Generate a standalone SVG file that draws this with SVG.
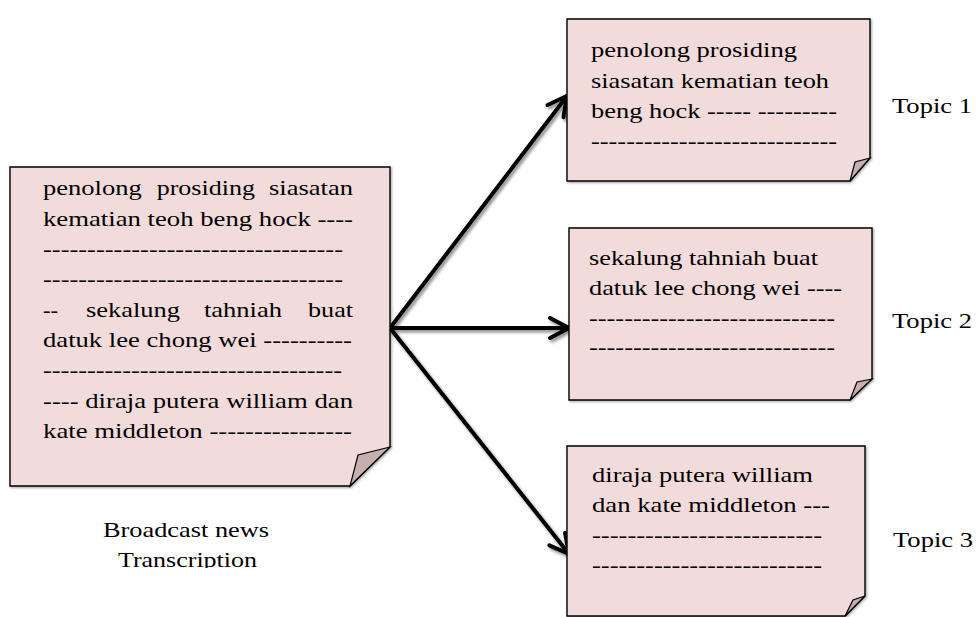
<svg xmlns="http://www.w3.org/2000/svg" width="977" height="617" viewBox="0 0 977 617">
<style>
.box{fill:#f2dcdb;stroke:#000;stroke-width:1.4;stroke-linejoin:miter}
.fold{fill:#c8afae;stroke:#000;stroke-width:1.2;stroke-linejoin:miter}
.t{font-family:"Liberation Serif","Times New Roman","DejaVu Serif",serif;font-size:21.5px;fill:#000}
.arrow{stroke:#000;stroke-width:4;fill:none;stroke-linecap:round;marker-end:url(#head)}
</style>
<defs>
<marker id="head" markerUnits="userSpaceOnUse" markerWidth="30" markerHeight="30" refX="0" refY="0" orient="auto" overflow="visible">
<path d="M-19,-10 L0,0 L-19,10" fill="none" stroke="#000" stroke-width="4" stroke-linecap="round" stroke-linejoin="miter"/>
</marker>
<filter id="ashadow" x="-20%" y="-20%" width="140%" height="140%">
<feDropShadow dx="2" dy="2.5" stdDeviation="1.5" flood-color="#000" flood-opacity="0.45"/>
</filter>
<filter id="bshadow" x="-5%" y="-5%" width="110%" height="110%">
<feDropShadow dx="1.2" dy="1.2" stdDeviation="0.8" flood-color="#000" flood-opacity="0.35"/>
</filter>
<clipPath id="clipT"><rect x="0" y="0" width="400" height="568"/></clipPath>
</defs>

<g id="connectors" filter="url(#ashadow)">
<line class="arrow" x1="390" y1="328" x2="567" y2="96"/>
<line class="arrow" x1="390" y1="328" x2="569" y2="328"/>
<line class="arrow" x1="390" y1="328" x2="569" y2="554"/>
</g>

<g id="main">
<g filter="url(#bshadow)">
<path class="box" d="M10,167 H390 V447 L350,486 H10 Z"/>
</g>
<polygon class="fold" points="390,447 358,455 350,486"/>
<text class="t" x="43" y="195" textLength="98.7" lengthAdjust="spacingAndGlyphs">penolong</text>
<text class="t" x="156.7" y="195" textLength="98.3" lengthAdjust="spacingAndGlyphs">prosiding</text>
<text class="t" x="269" y="195" textLength="84" lengthAdjust="spacingAndGlyphs">siasatan</text>
<text class="t" x="43" y="225.5" textLength="310" lengthAdjust="spacingAndGlyphs">kematian teoh beng hock ----</text>
<text class="t" x="43" y="255.5" textLength="300" lengthAdjust="spacingAndGlyphs">----------------------------------</text>
<text class="t" x="43" y="286" textLength="300" lengthAdjust="spacingAndGlyphs">----------------------------------</text>
<text class="t" x="43" y="316.5" textLength="15" lengthAdjust="spacingAndGlyphs">--</text>
<text class="t" x="86" y="316.5" textLength="94" lengthAdjust="spacingAndGlyphs">sekalung</text>
<text class="t" x="204" y="316.5" textLength="78" lengthAdjust="spacingAndGlyphs">tahniah</text>
<text class="t" x="308" y="316.5" textLength="45" lengthAdjust="spacingAndGlyphs">buat</text>
<text class="t" x="43" y="347" textLength="309" lengthAdjust="spacingAndGlyphs">datuk lee chong wei ----------</text>
<text class="t" x="43" y="377" textLength="299" lengthAdjust="spacingAndGlyphs">----------------------------------</text>
<text class="t" x="43" y="408" textLength="310" lengthAdjust="spacingAndGlyphs">---- diraja putera william dan</text>
<text class="t" x="43" y="438" textLength="309" lengthAdjust="spacingAndGlyphs">kate middleton ----------------</text>
</g>

<g id="main-label">
<text class="t" x="103" y="537" textLength="166" lengthAdjust="spacingAndGlyphs">Broadcast news</text>
<text class="t" x="118" y="566.5" textLength="139" lengthAdjust="spacingAndGlyphs" clip-path="url(#clipT)">Transcription</text>
</g>

<g id="topic1">
<g filter="url(#bshadow)">
<path class="box" d="M567,19 H870 V158 L850,181 H567 Z"/>
</g>
<polygon class="fold" points="870,158 855,162 850,181"/>
<text class="t" x="591" y="57" textLength="206" lengthAdjust="spacingAndGlyphs">penolong prosiding</text>
<text class="t" x="591" y="87.5" textLength="238" lengthAdjust="spacingAndGlyphs">siasatan kematian teoh</text>
<text class="t" x="591" y="117.5" textLength="246" lengthAdjust="spacingAndGlyphs">beng hock ----- ---------</text>
<text class="t" x="591" y="147.5" textLength="246" lengthAdjust="spacingAndGlyphs">----------------------------</text>
</g>
<g id="topic1-label">
<text class="t" x="892" y="113" textLength="80" lengthAdjust="spacingAndGlyphs">Topic 1</text>
</g>

<g id="topic2">
<g filter="url(#bshadow)">
<path class="box" d="M569,228 H872 V379 L850,400 H569 Z"/>
</g>
<polygon class="fold" points="872,379 857,382 850,400"/>
<text class="t" x="589" y="265" textLength="229" lengthAdjust="spacingAndGlyphs">sekalung tahniah buat</text>
<text class="t" x="589" y="294.5" textLength="253" lengthAdjust="spacingAndGlyphs">datuk lee chong wei ----</text>
<text class="t" x="589" y="324.5" textLength="246" lengthAdjust="spacingAndGlyphs">----------------------------</text>
<text class="t" x="589" y="354" textLength="246" lengthAdjust="spacingAndGlyphs">----------------------------</text>
</g>
<g id="topic2-label">
<text class="t" x="892" y="328" textLength="80" lengthAdjust="spacingAndGlyphs">Topic 2</text>
</g>

<g id="topic3">
<g filter="url(#bshadow)">
<path class="box" d="M567,446 H865 V596 L845,616 H567 Z"/>
</g>
<polygon class="fold" points="865,596 853,600 845,616"/>
<text class="t" x="592" y="482" textLength="221" lengthAdjust="spacingAndGlyphs">diraja putera william</text>
<text class="t" x="592" y="512" textLength="238" lengthAdjust="spacingAndGlyphs">dan kate middleton ---</text>
<text class="t" x="592" y="542" textLength="230" lengthAdjust="spacingAndGlyphs">--------------------------</text>
<text class="t" x="592" y="572" textLength="230" lengthAdjust="spacingAndGlyphs">--------------------------</text>
</g>
<g id="topic3-label">
<text class="t" x="893" y="547" textLength="80" lengthAdjust="spacingAndGlyphs">Topic 3</text>
</g>
</svg>
